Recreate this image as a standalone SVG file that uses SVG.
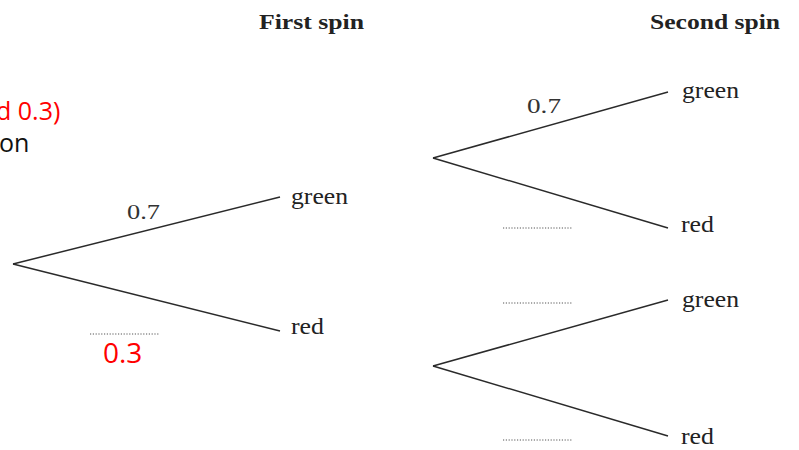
<svg xmlns="http://www.w3.org/2000/svg" width="799" height="450" viewBox="0 0 799 450">
<style>
.br{stroke:#2a2a2a;stroke-width:1.5;fill:none}
.dot{stroke:#555;stroke-width:1;stroke-dasharray:1.2 1.6;fill:none}
.lbl{font-family:"Liberation Serif",serif;font-size:23px;fill:#222}
.hd{font-family:"Liberation Serif",serif;font-size:22px;font-weight:bold;fill:#222}
.prob{font-family:"Liberation Serif",serif;font-size:22px;fill:#333}
.ann{font-family:"Open Sans","Liberation Sans",sans-serif;font-size:25px}
.big{font-size:28px}
</style>
<rect width="799" height="450" fill="#fff"/>
<g id="headings">
<text class="hd" x="259" y="29" textLength="105" lengthAdjust="spacingAndGlyphs">First spin</text>
<text class="hd" x="650" y="29" textLength="130" lengthAdjust="spacingAndGlyphs">Second spin</text>
</g>
<g id="annotation">
<text class="ann" x="-4" y="120" fill="#ff0000">d 0.3)</text>
<text class="ann" x="-1" y="152" fill="#111">on</text>
</g>
<g id="connectors">
<line class="br" x1="13" y1="264" x2="280" y2="197"/>
<line class="br" x1="13" y1="264" x2="280" y2="331"/>
<line class="br" x1="433" y1="158" x2="668" y2="92"/>
<line class="br" x1="433" y1="158" x2="668" y2="228"/>
<line class="br" x1="433" y1="366" x2="668" y2="300"/>
<line class="br" x1="433" y1="366" x2="668" y2="436"/>
<line class="dot" x1="90" y1="334" x2="160" y2="334"/>
<line class="dot" x1="503" y1="228" x2="573" y2="228"/>
<line class="dot" x1="503" y1="303" x2="573" y2="303"/>
<line class="dot" x1="503" y1="440" x2="573" y2="440"/>
</g>
<g id="first-green"><text class="lbl" x="291" y="204" textLength="57" lengthAdjust="spacingAndGlyphs">green</text></g>
<g id="first-red"><text class="lbl" x="291" y="334" textLength="33" lengthAdjust="spacingAndGlyphs">red</text></g>
<g id="second-green-1"><text class="lbl" x="682" y="98" textLength="57" lengthAdjust="spacingAndGlyphs">green</text></g>
<g id="second-red-1"><text class="lbl" x="681" y="232" textLength="33" lengthAdjust="spacingAndGlyphs">red</text></g>
<g id="second-green-2"><text class="lbl" x="682" y="307" textLength="57" lengthAdjust="spacingAndGlyphs">green</text></g>
<g id="second-red-2"><text class="lbl" x="681" y="444" textLength="33" lengthAdjust="spacingAndGlyphs">red</text></g>
<g id="probs">
<text class="prob" x="127" y="219" textLength="33" lengthAdjust="spacingAndGlyphs">0.7</text>
<text class="prob" x="527" y="113" textLength="34" lengthAdjust="spacingAndGlyphs">0.7</text>
<text class="ann big" x="103" y="363" fill="#ff0000">0.3</text>
</g>
</svg>
